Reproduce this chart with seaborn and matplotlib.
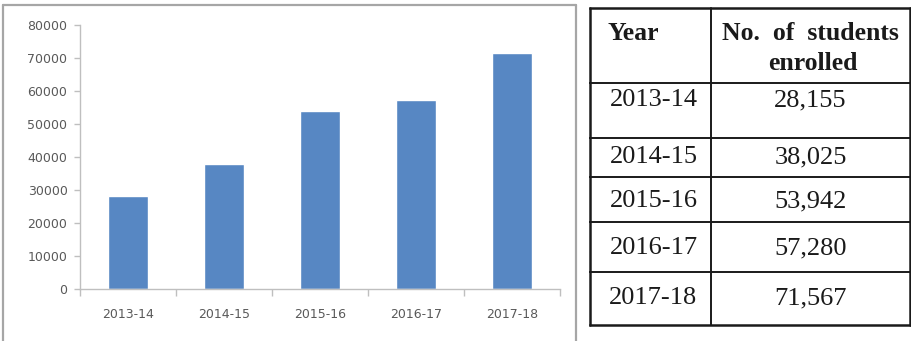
import matplotlib
matplotlib.use("Agg")
import matplotlib.pyplot as plt
from matplotlib.lines import Line2D
import seaborn as sns
import pandas as pd

# Enrolment data
years = ["2013-14", "2014-15", "2015-16", "2016-17", "2017-18"]
enrolled = [28155, 38025, 53942, 57280, 71567]
y_ticks = [0, 10000, 20000, 30000, 40000, 50000, 60000, 70000, 80000]

df = pd.DataFrame({"Year": years, "Enrolled": enrolled})

sns.set_theme(style="white")
W, H = 911, 341
fig = plt.figure(figsize=(W / 100, H / 100), dpi=100)
fig.patch.set_facecolor("white")

def fx(px):
    return px / W

def fy(py):
    return 1 - py / H

# Frame around the chart
frame_col = "#a6a6a6"
for xs, ys in [([3, 3], [5, H + 2]), ([3, 576], [5, 5]), ([576, 576], [5, H + 2])]:
    fig.add_artist(Line2D([fx(x) for x in xs], [fy(y) for y in ys],
                          color=frame_col, lw=1.6, transform=fig.transFigure))

# Bar chart
ax = fig.add_axes([fx(80), fy(289), fx(560) - fx(80), fy(25) - fy(289)])
sns.barplot(data=df, x="Year", y="Enrolled", color="#5787c3", width=0.41,
            saturation=1, ax=ax)
ax.set_xlim(-0.5, len(years) - 0.5)
ax.set_ylim(0, 80000)
ax.set_yticks(y_ticks)
ax.set_yticklabels([str(v) for v in y_ticks])
ax.set_xlabel("")
ax.set_ylabel("")
for s in ["top", "right"]:
    ax.spines[s].set_visible(False)
for s in ["left", "bottom"]:
    ax.spines[s].set_color("#bfbfbf")
    ax.spines[s].set_linewidth(1.0)
ax.tick_params(axis="y", which="major", length=4, width=1, color="#bfbfbf",
               labelsize=9, labelcolor="#595959", pad=5, left=True)
ax.tick_params(axis="x", which="major", length=0, labelsize=9,
               labelcolor="#595959", pad=14)
ax.set_xticks([i - 0.5 for i in range(len(years) + 1)], minor=True)
ax.tick_params(axis="x", which="minor", length=5, width=1, color="#bfbfbf",
               bottom=True)
for lab in ax.get_xticklabels() + ax.get_yticklabels():
    lab.set_family("DejaVu Sans")

# Table of values
tx0, tx1, tcol = 590, 910, 711
row_edges = [8, 83, 138, 177, 222, 272, 325]
text_y = [100, 157, 201, 248, 298]
tab = fig.add_axes([0, 0, 1, 1], facecolor="none")
tab.set_xlim(0, W)
tab.set_ylim(H, 0)
tab.axis("off")
for i, yv in enumerate(row_edges):
    lw = 1.8 if i in (0, len(row_edges) - 1) else 1.4
    tab.plot([tx0, tx1], [yv, yv], color="#1a1a1a", lw=lw, solid_capstyle="projecting")
for xv in (tx0, tcol, tx1):
    lw = 1.4 if xv == tcol else 1.8
    tab.plot([xv, xv], [row_edges[0], row_edges[-1]], color="#1a1a1a", lw=lw)

serif = "Liberation Serif"
tab.text(607, 33, "Year", fontfamily=serif, fontsize=18.5, fontweight="bold",
         ha="left", va="center", color="#1a1a1a")
tab.text((tcol + tx1) / 2, 33, "No.  of  students", fontfamily=serif, fontsize=18.5,
         fontweight="bold", ha="center", va="center", color="#1a1a1a")
tab.text((tcol + tx1) / 2 + 2, 64, "enrolled", fontfamily=serif, fontsize=18.5,
         fontweight="bold", ha="center", va="center", color="#1a1a1a")
for yr, val, yc in zip(years, enrolled, text_y):
    tab.text((tx0 + tcol) / 2 + 3, yc, yr, fontfamily=serif, fontsize=19,
             ha="center", va="center", color="#1a1a1a")
    tab.text((tcol + tx1) / 2, yc, f"{val:,}", fontfamily=serif, fontsize=19,
             ha="center", va="center", color="#1a1a1a")

fig.savefig("out.png", dpi=100)
